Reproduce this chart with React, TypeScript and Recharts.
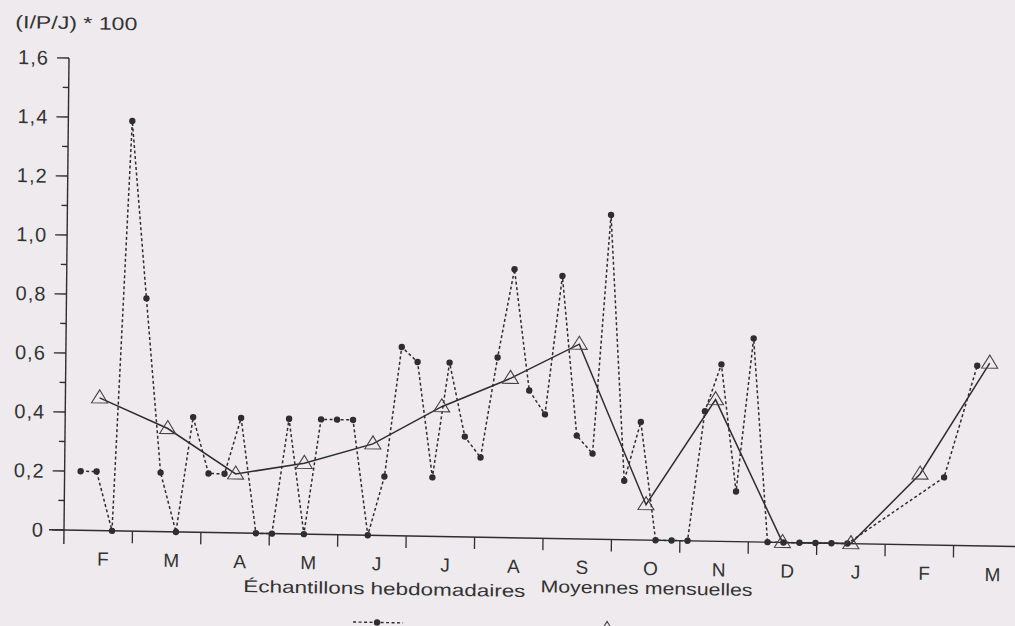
import { LineChart, Line, XAxis, YAxis } from 'recharts'

const MONTHS = ['F', 'M', 'A', 'M', 'J', 'J', 'A', 'S', 'O', 'N', 'D', 'J', 'F', 'M']

// weekly samples: week number counted from the first sample
const SAMPLE_WEEKS = [
  0, 1, 2, 3, 4, 5, 6, 7, 8, 9,
  10, 11, 12, 13, 14, 15, 16, 17, 18, 19,
  20, 21, 22, 23, 24, 25, 26, 27, 28, 29,
  30, 31, 32, 33, 34, 35, 36, 37, 38, 39,
  40, 41, 42, 43, 44, 45, 46, 47, 48, 54, 56,
]
const WEEKLY = [
  0.2, 0.2, 0, 1.39, 0.79, 0.2, 0, 0.39, 0.2, 0.2,
  0.39, 0, 0, 0.39, 0, 0.39, 0.39, 0.39, 0, 0.2,
  0.64, 0.59, 0.2, 0.59, 0.34, 0.27, 0.61, 0.91, 0.5, 0.42,
  0.89, 0.35, 0.29, 1.1, 0.2, 0.4, 0, 0, 0, 0.44,
  0.6, 0.17, 0.69, 0, 0, 0, 0, 0, 0, 0.23, 0.61,
]
// monthly means, one per month (mid-month)
const MONTHLY = [0.45, 0.35, 0.2, 0.24, 0.31, 0.44, 0.54, 0.66, 0.12, 0.48, 0, 0, 0.24, 0.62]

const Y_TICKS = [0, 0.1, 0.2, 0.3, 0.4, 0.5, 0.6, 0.7, 0.8, 0.9, 1.0, 1.1, 1.2, 1.3, 1.4, 1.5, 1.6]

const FIRST_SAMPLE = 0.234 // position of first sample, in months
const WEEKS_PER_MONTH = 4.28

const BG = '#eeeaee'
const INK = '#2e2e2e'
const FONT = "'Liberation Sans', Arial, Helvetica, sans-serif"

const weeklyData = SAMPLE_WEEKS.map((w, i) => ({ x: FIRST_SAMPLE + w / WEEKS_PER_MONTH, v: WEEKLY[i] }))
const monthlyData = MONTHLY.map((v, i) => ({ x: i + 0.5, v }))
const xTicks = MONTHS.flatMap((_, i) => [i, i + 0.5]).concat(MONTHS.length)

function MonthTick(props: any) {
  const { x, y, payload } = props
  const v = payload.value
  if (v === 0) return <line x1={x - 15} x2={x} y1={y} y2={y} stroke={INK} strokeWidth={1.4} />
  if (Number.isInteger(v)) {
    if (v >= MONTHS.length) return <g />
    return <line x1={x} x2={x} y1={y} y2={y + 12} stroke={INK} strokeWidth={1.3} />
  }
  return (
    <text x={x + 5} y={y + 35} textAnchor="middle" fontSize={19} fill="#333" fontFamily={FONT}>
      {MONTHS[Math.floor(v)]}
    </text>
  )
}

function ValueTick(props: any) {
  const { x, y, payload } = props
  const tenth = Math.round(payload.value * 10)
  const major = tenth % 2 === 0
  return (
    <g>
      <line x1={x - (major ? 12 : 6)} x2={x} y1={y} y2={y} stroke={INK} strokeWidth={1.3} />
      {major && (
        <text x={x - 20} y={y + 7} textAnchor="end" fontSize={20} letterSpacing={1} fill="#333" fontFamily={FONT}>
          {tenth === 0 ? '0' : (tenth / 10).toFixed(1).replace('.', ',')}
        </text>
      )}
      {tenth === 0 && <line x1={x} x2={x} y1={y} y2={y + 14} stroke={INK} strokeWidth={1.4} />}
    </g>
  )
}

function Triangle(props: any) {
  const { cx, cy, index } = props
  return (
    <path
      key={`tri-${index}`}
      d={`M${cx},${cy - 8} L${cx + 8},${cy + 5} L${cx - 8},${cy + 5} Z`}
      fill="none"
      stroke="#444"
      strokeWidth={1.1}
    />
  )
}

export default function App() {
  return (
    <div style={{ position: 'absolute', left: 0, top: 0, width: 1015, height: 626, overflow: 'hidden', background: BG }}>
      <div
        style={{
          position: 'absolute', left: 0, top: 0, width: 1022, height: 626,
          transform: 'matrix(1, 0.0173, -0.0106, 1, 0, 0)', transformOrigin: '64px 530px',
        }}
      >
        <LineChart width={1022} height={626} margin={{ top: 58, right: 0, bottom: 0, left: 0 }}>
          <XAxis
            type="number" dataKey="x" domain={[0, MONTHS.length]} ticks={xTicks} interval={0}
            height={96} tickSize={0} tickMargin={0} tickLine={false}
            axisLine={{ stroke: INK, strokeWidth: 1.4 }} tick={<MonthTick />}
          />
          <YAxis
            type="number" dataKey="v" domain={[0, 1.6]} ticks={Y_TICKS} interval={0}
            width={64} tickSize={0} tickMargin={0} tickLine={false}
            axisLine={{ stroke: INK, strokeWidth: 1.4 }} tick={<ValueTick />}
          />
          <Line
            data={weeklyData} dataKey="v" type="linear" stroke={INK} strokeWidth={1.5}
            strokeDasharray="3 2.5" dot={{ r: 3.2, fill: INK, stroke: INK, strokeWidth: 0 }}
            isAnimationActive={false}
          />
          <Line
            data={monthlyData} dataKey="v" type="linear" stroke={INK} strokeWidth={1.5}
            dot={<Triangle />} isAnimationActive={false}
          />
        </LineChart>
        <svg width={1022} height={626} style={{ position: 'absolute', left: 0, top: 0, pointerEvents: 'none' }}>
          <text x={10} y={29} fontSize={18} fill="#333" fontFamily={FONT} textLength={122} lengthAdjust="spacingAndGlyphs">
            (I/P/J) * 100
          </text>
          <text x={244} y={589} fontSize={17} fill="#333" fontFamily={FONT} textLength={282} lengthAdjust="spacingAndGlyphs">
            Échantillons hebdomadaires
          </text>
          <text x={541} y={584} fontSize={17} fill="#333" fontFamily={FONT} textLength={212} lengthAdjust="spacingAndGlyphs">
            Moyennes mensuelles
          </text>
          <line x1={354} x2={404} y1={617} y2={617} stroke={INK} strokeWidth={1.4} strokeDasharray="3 2.5" />
          <circle cx={378} cy={617} r={3.2} fill={INK} />
          <path d="M608,612 L616,625 L600,625 Z" fill="none" stroke="#444" strokeWidth={1.1} />
        </svg>
      </div>
    </div>
  )
}
